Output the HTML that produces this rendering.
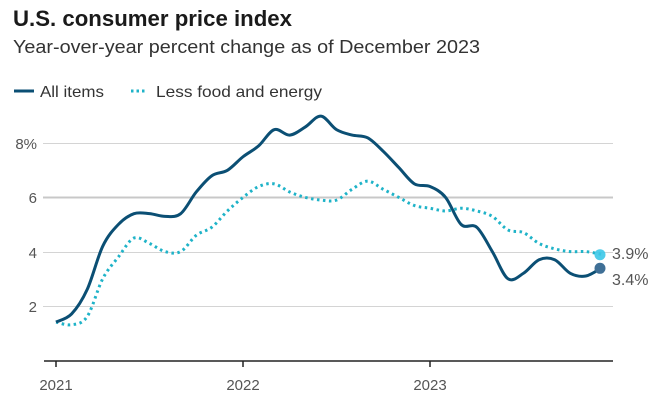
<!DOCTYPE html>
<html><head><meta charset="utf-8"><style>
body{margin:0;width:664px;height:412px;background:#fff;font-family:"Liberation Sans",sans-serif;overflow:hidden}
</style></head><body>
<svg width="664" height="412" xmlns="http://www.w3.org/2000/svg" font-family="Liberation Sans, sans-serif">
<text x="13" y="26" font-size="22" font-weight="bold" fill="#1a1a1a" textLength="279" lengthAdjust="spacingAndGlyphs">U.S. consumer price index</text>
<text x="13" y="53" font-size="18" fill="#333" textLength="467" lengthAdjust="spacingAndGlyphs">Year-over-year percent change as of December 2023</text>
<line x1="14" y1="91" x2="34" y2="91" stroke="#0b4f74" stroke-width="3"/>
<text x="40" y="97" font-size="16" fill="#333" textLength="64" lengthAdjust="spacingAndGlyphs">All items</text>
<line x1="131" y1="91" x2="145" y2="91" stroke="#1fb3c8" stroke-width="3" stroke-dasharray="2.5,3"/>
<text x="156" y="97" font-size="16" fill="#333" textLength="166" lengthAdjust="spacingAndGlyphs">Less food and energy</text>
<g stroke="#d4d4d4" stroke-width="1">
<line x1="43" y1="143.5" x2="613" y2="143.5"/>
<line x1="43" y1="197.5" x2="613" y2="197.5" stroke="#c8c8c8" stroke-width="2"/>
<line x1="43" y1="252.5" x2="613" y2="252.5"/>
<line x1="43" y1="306.5" x2="613" y2="306.5"/>
</g>
<g font-size="15" fill="#555" text-anchor="end">
<text x="37" y="149">8%</text><text x="37" y="203">6</text><text x="37" y="258">4</text><text x="37" y="312">2</text>
</g>
<line x1="44" y1="361" x2="613" y2="361" stroke="#222" stroke-width="1.5"/>
<g stroke="#222" stroke-width="1.5"><line x1="56" y1="361" x2="56" y2="367"/><line x1="243" y1="361" x2="243" y2="367"/><line x1="430" y1="361" x2="430" y2="367"/></g>
<g font-size="15" fill="#555" text-anchor="middle">
<text x="56" y="390">2021</text><text x="243" y="390">2022</text><text x="430" y="390">2023</text>
</g>
<path id="core" fill="none" stroke="#1fb3c8" stroke-width="3" stroke-dasharray="2.5,3.5"/>
<path id="all" fill="none" stroke="#0b4f74" stroke-width="3"/>
<circle cx="600" cy="254.7" r="5.5" fill="#3cc8e8" opacity="0.9"/>
<circle cx="600" cy="268.3" r="5.5" fill="#3f6f96"/>
<text x="612" y="259" font-size="16" fill="#555">3.9%</text>
<text x="612" y="285" font-size="16" fill="#555">3.4%</text>
</svg>
<script>
var a=[1.4,1.7,2.6,4.2,5.0,5.4,5.4,5.3,5.4,6.2,6.8,7.0,7.5,7.9,8.5,8.3,8.6,9.0,8.5,8.3,8.2,7.7,7.1,6.5,6.4,6.0,5.0,4.9,4.0,3.0,3.2,3.7,3.7,3.2,3.1,3.4];
var c=[1.4,1.3,1.6,3.0,3.8,4.5,4.3,4.0,4.0,4.6,4.9,5.5,6.0,6.4,6.5,6.2,6.0,5.9,5.9,6.3,6.6,6.3,6.0,5.7,5.6,5.5,5.6,5.5,5.3,4.8,4.7,4.3,4.1,4.0,4.0,3.9];
function P(d){var p=d.map(function(v,i){return[56+i*187/12,360-v*27.1]});var s="M"+p[0];
for(var i=0;i<p.length-1;i++){var p0=p[i-1]||p[i],p1=p[i],p2=p[i+1],p3=p[i+2]||p2;
s+="C"+(p1[0]+(p2[0]-p0[0])/6)+","+(p1[1]+(p2[1]-p0[1])/6)+" "+(p2[0]-(p3[0]-p1[0])/6)+","+(p2[1]-(p3[1]-p1[1])/6)+" "+p2;}return s;}
document.getElementById("all").setAttribute("d",P(a));
document.getElementById("core").setAttribute("d",P(c));
</script>
</body></html>
